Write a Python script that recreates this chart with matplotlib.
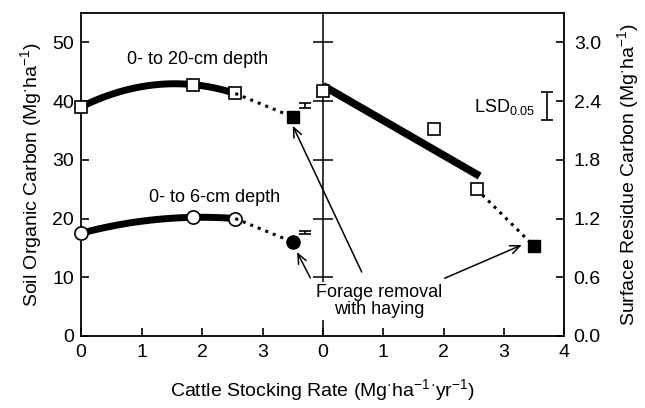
import numpy as np
import matplotlib
matplotlib.use('Agg')
import matplotlib.pyplot as plt

plt.rcParams['font.family'] = ['Liberation Sans', 'DejaVu Sans']
plt.rcParams['mathtext.fontset'] = 'custom'
plt.rcParams['mathtext.rm'] = 'Liberation Sans'
plt.rcParams['mathtext.it'] = 'Liberation Sans:italic'
plt.rcParams['mathtext.default'] = 'regular'

# Data
rate_grazed = [0, 1.85, 2.55]
rate_hay = 3.5

soc_20cm = [39.0, 42.8, 41.3]
soc_20cm_hay = 37.3
soc_6cm = [17.5, 20.2, 20.0]
soc_6cm_hay = 16.0

# LSD bars for soil carbon (x position, centre, half width)
lsd_soc_x = 3.71
lsd_20cm = (39.3, 0.45)
lsd_6cm = (17.6, 0.2)

residue = [2.50, 2.11, 1.50]
residue_hay = 0.92
lsd_residue = (2.35, 0.145)

left_yticks = [0, 10, 20, 30, 40, 50]
right_yticks = [0.0, 0.6, 1.2, 1.8, 2.4, 3.0]

W, H = 645, 408
fig = plt.figure(figsize=(W / 100, H / 100), dpi=100)
ax1 = fig.add_axes([81 / W, 1 - 336 / H, 242 / W, 323 / H])
ax2 = fig.add_axes([323 / W, 1 - 336 / H, 241 / W, 323 / H])

spine_lw = 1.3
for ax in (ax1, ax2):
    for s in ax.spines.values():
        s.set_linewidth(spine_lw)
    ax.set_xlim(0, 4)
    ax.set_facecolor('none')

# ---- left panel: soil organic carbon ----
ax1.set_ylim(0, 55)
ax1.spines['right'].set_visible(False)
ax1.set_xticks([0, 1, 2, 3])
ax1.set_yticks(left_yticks)
ax1.tick_params(axis='both', direction='in', length=6, width=1.2, labelsize=14, pad=6)
ax1.tick_params(axis='y', pad=5)
ax1.tick_params(top=False, right=False)

xs = np.linspace(0, rate_grazed[-1], 100)
for vals, hay, marker in [(soc_20cm, soc_20cm_hay, 's'), (soc_6cm, soc_6cm_hay, 'o')]:
    coef = np.polyfit(rate_grazed, vals, 2)
    ax1.plot(xs, np.polyval(coef, xs), color='black', lw=5, solid_capstyle='butt', zorder=3)
    ms = 8.5 if marker == 's' else 9.5
    ax1.plot(rate_grazed, vals, marker, ms=ms, mfc='white', mec='black', mew=1.2,
             linestyle='none', zorder=4, clip_on=False)
    ax1.plot([rate_grazed[-1], rate_hay], [vals[-1], hay], ':', color='black', lw=2.2, zorder=5)
    ax1.plot([rate_hay], [hay], marker, ms=ms, color='black', zorder=6)

for yc, half in (lsd_20cm, lsd_6cm):
    ax1.errorbar([lsd_soc_x], [yc], yerr=[half], fmt='none', ecolor='black',
                 elinewidth=1.2, capsize=4, capthick=1.2)

ax1.text(1.92, 47, '0- to 20-cm depth', ha='center', va='center', fontsize=13)
ax1.text(2.2, 23.6, '0- to 6-cm depth', ha='center', va='center', fontsize=13)
ax1.set_ylabel('Soil Organic Carbon (Mg$^{·}$ha$^{-1}$)', fontsize=14, labelpad=6)

# ---- right panel: surface residue carbon ----
ax2.set_ylim(0, 3.3)
ax2.set_xticks([0, 1, 2, 3, 4])
ax2.yaxis.set_label_position('right')
ax2.yaxis.tick_right()
ax2.set_yticks(right_yticks)
ax2.set_yticklabels([f'{v:.1f}' for v in right_yticks])
ax2.tick_params(axis='both', direction='in', length=6, width=1.2, labelsize=14, pad=6)
ax2.tick_params(axis='y', pad=7)
ax2.spines['left'].set_linewidth(1.1)

coef = np.polyfit(rate_grazed, residue, 1)
xl = np.linspace(0, 2.6, 2)
ax2.plot(xl, np.polyval(coef, xl), color='black', lw=5.5, solid_capstyle='butt', zorder=3)
ax2.plot(rate_grazed, residue, 's', ms=8.5, mfc='white', mec='black', mew=1.2,
         linestyle='none', zorder=5, clip_on=False)
ax2.plot([rate_grazed[-1], rate_hay], [residue[-1], residue_hay], ':', color='black', lw=2.2, zorder=4)
ax2.plot([rate_hay], [residue_hay], 's', ms=8.5, color='black', zorder=6)

ax2.errorbar([3.72], [lsd_residue[0]], yerr=[lsd_residue[1]], fmt='none', ecolor='black',
             elinewidth=1.2, capsize=4, capthick=1.2)
ax2.text(3.53, 2.34, 'LSD$_{0.05}$', ha='right', va='center', fontsize=13)
ax2.set_ylabel('Surface Residue Carbon (Mg$^{·}$ha$^{-1}$)', fontsize=14,
               rotation=90, labelpad=10)

# ticks crossing the divider between panels
div = fig.add_axes(ax2.get_position())
div.set_xlim(0, 4)
div.set_ylim(0, 55)
div.patch.set_visible(False)
for s in div.spines.values():
    s.set_visible(False)
div.set_xticks([])
div.set_yticks(left_yticks[1:])
div.set_yticklabels([])
div.tick_params(axis='y', direction='inout', length=14, width=1.1)

# annotation for the hayed treatment
ax2.text(0.93, 0.36, 'Forage removal\nwith haying', ha='center', va='center',
         fontsize=13, linespacing=1.0, zorder=10,
         bbox=dict(boxstyle='square,pad=0.1', fc='white', ec='none'))
arrow = dict(arrowstyle='->,head_length=0.7,head_width=0.3', color='black', lw=1.1,
             shrinkA=0, shrinkB=0)
ax1.annotate('', xy=(3.50, 35.8), xytext=(4.64, 10.9), arrowprops=arrow, annotation_clip=False)
ax1.annotate('', xy=(3.57, 14.3), xytext=(3.79, 9.9), arrowprops=arrow, annotation_clip=False)
ax2.annotate('', xy=(3.30, 0.93), xytext=(2.02, 0.59), arrowprops=arrow, annotation_clip=False)

fig.text(322 / W, 1 - 390 / H, 'Cattle Stocking Rate (Mg$^{·}$ha$^{-1}$$^{·}$yr$^{-1}$)',
         ha='center', va='center', fontsize=14)

fig.savefig('out.png', dpi=100)
